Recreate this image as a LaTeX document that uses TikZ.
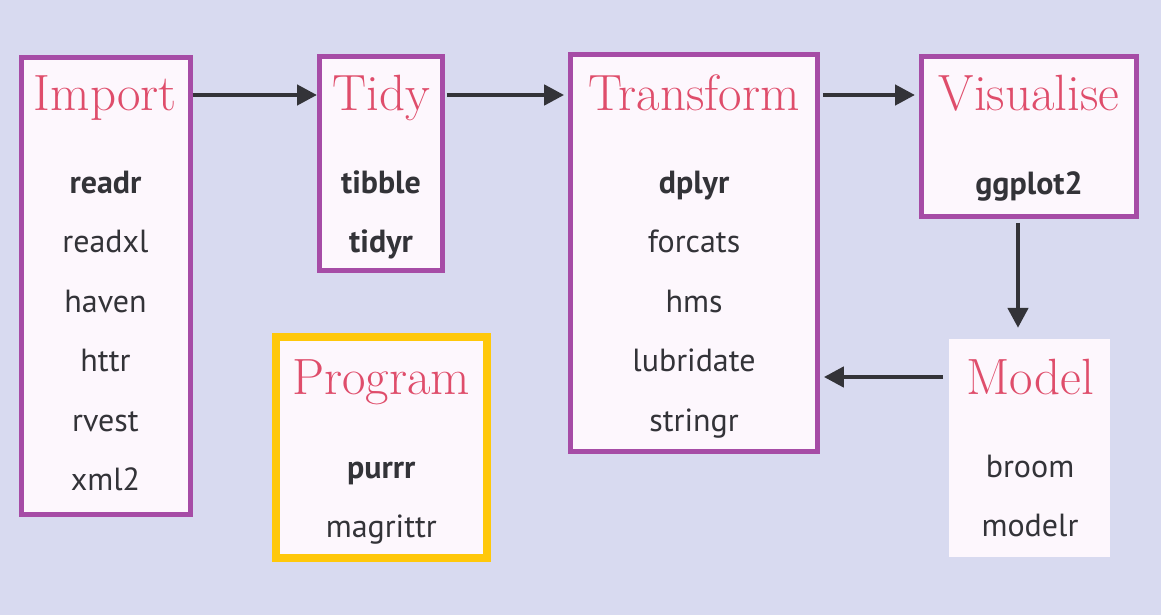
\documentclass[tikz,border=0pt]{standalone}
\usepackage{fontspec}
\usepackage{xcolor}
\usetikzlibrary{arrows.meta}
\newfontfamily\pkgfont{PT Sans}

\definecolor{bgcol}{HTML}{D8DAF0}
\definecolor{boxfill}{HTML}{FDF7FD}
\definecolor{stagecol}{HTML}{A64CA6}
\definecolor{progcol}{HTML}{FFC80A}
\definecolor{titlecol}{HTML}{DF4D6B}
\definecolor{inkcol}{HTML}{333338}

\tikzset{stage/.style = {draw=stagecol, fill=boxfill, line width=5pt, rectangle, inner sep=0}}
\tikzset{ttl/.style = {anchor=base, text=titlecol, font=\fontsize{51}{54}\selectfont, inner sep=0}}
\tikzset{pkg/.style = {anchor=base, text=inkcol, font=\pkgfont\fontsize{32}{34}\selectfont, inner sep=0}}
\tikzset{mainpkg/.style = {pkg, font=\pkgfont\bfseries\fontsize{32}{34}\selectfont}}
\tikzset{flow/.style = {draw=inkcol, line width=4.5pt,
                        -{Triangle[length=20pt,width=20pt]},
                        shorten <=3pt, shorten >=4pt}}

\begin{document}
\begin{tikzpicture}[x=1pt, y=-1pt]
      \fill [bgcol] (0,0) rectangle (1161,615);
      \useasboundingbox (0,0) rectangle (1161,615);

      \node [stage, minimum width=169pt, minimum height=457pt] (imp) at (105.5, 286) {};
      \node [stage, minimum width=123pt, minimum height=214pt] (tidy) at (381, 163.5) {};
      \node [stage, minimum width=246.7pt, minimum height=396.7pt] (trans) at (694, 253) {};
      \node [stage, minimum width=215pt, minimum height=159.7pt] (vis) at (1029, 136.6) {};
      \node [fill=boxfill, minimum width=160.7pt, minimum height=217.7pt, inner sep=0] (mod) at (1029.7, 447.9) {};
      \node [stage, draw=progcol, line width=8pt, minimum width=211.3pt, minimum height=221pt] (prog) at (381.3, 447.2) {};

      % titles
      \node [ttl] (impT) at (105.5, 111) {Import};
      \node [ttl] (tidyT) at (381, 111) {Tidy};
      \node [ttl] (transT) at (694, 111) {Transform};
      \node [ttl] (visT) at (1029, 111) {Visualise};
      \node [ttl] (modT) at (1030, 394) {Model};
      \node [ttl] (progT) at (381.3, 394) {Program};

      % import
      \node [mainpkg] (readr) at (105.5, 193) {readr};
      \node [pkg] (readxl) at (105.5, 252.5) {readxl};
      \node [pkg] (haven) at (105.5, 312) {haven};
      \node [pkg] (httr) at (105.5, 371.5) {httr};
      \node [pkg] (rvest) at (105.5, 431) {rvest};
      \node [pkg] (xmltwo) at (105.5, 490.5) {xml2};

      % tidy
      \node [mainpkg] (tibble) at (381, 193) {tibble};
      \node [mainpkg] (tidyr) at (381, 252.5) {tidyr};

      % transform
      \node [mainpkg] (dplyr) at (694, 193) {dplyr};
      \node [pkg] (forcats) at (694, 252.5) {forcats};
      \node [pkg] (hms) at (694, 312) {hms};
      \node [pkg] (lubri) at (694, 371.5) {lubridate};
      \node [pkg] (stringr) at (694, 431) {stringr};

      % visualise, model, program
      \node [mainpkg] (ggplot) at (1029, 194) {ggplot2};
      \node [pkg] (broom) at (1030, 477) {broom};
      \node [pkg] (modelr) at (1030, 536) {modelr};
      \node [mainpkg] (purrr) at (381.3, 478) {purrr};
      \node [pkg] (magrittr) at (381.3, 537) {magrittr};

      % connectors
      \coordinate (upper) at (0, 95);
      \coordinate (lower) at (0, 377);
      \draw [flow, shorten <=0pt, shorten >=0pt] (imp.east |- upper) -- (tidy.west |- upper);
      \draw [flow, shorten <=1.5pt] (tidy.east |- upper) -- (trans.west |- upper);
      \draw [flow] (trans.east |- upper) -- (vis.west |- upper);
      \draw [flow, shorten <=4pt, shorten >=11pt] ([xshift=-11pt]vis.south) -- ([xshift=-11pt]vis.south |- mod.north);
      \draw [flow, shorten <=6pt] (mod.west |- lower) -- (trans.east |- lower);
    \end{tikzpicture}
\end{document}
